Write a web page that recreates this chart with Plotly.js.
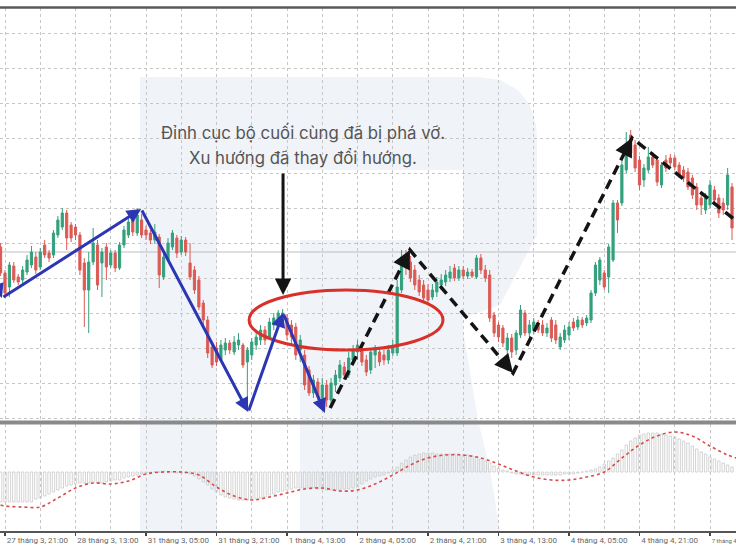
<!DOCTYPE html>
<html><head><meta charset="utf-8">
<script src="https://cdn.plot.ly/plotly-3.0.1.min.js"></script>
<style>html,body{margin:0;padding:0;background:#fff}#chart{width:736px;height:553px}</style>
</head><body><div id="chart"></div>
<script>
// ---- price candles (hourly), first candle = hour index -1 ----
const openP = [
25.3,22.7,21.3,23.4,22.3,22.0,22.8,23.5,24.3,23.3,
25.5,24.7,24.5,26.5,27.3,28.7,27.5,27.3,26.5,23.7,
21.0,23.8,25.5,23.7,25.3,23.5,24.7,23.2,25.5,26.5,
28.0,26.7,28.0,27.0,26.7,26.0,26.3,22.3,24.0,25.3,
26.2,24.8,26.0,23.7,23.0,22.0,19.7,18.0,15.3,15.2,
14.0,15.0,15.7,14.8,15.5,15.5,13.8,14.5,15.5,16.0,
17.0,16.3,17.5,18.0,18.2,18.2,17.5,17.3,15.0,14.5,
13.0,10.7,11.8,10.2,11.5,10.0,11.5,12.2,13.3,12.5,
14.0,14.8,15.0,14.0,13.0,14.5,14.8,14.5,14.0,14.7,
14.7,21.0,24.5,23.8,23.0,22.0,21.5,21.0,20.3,20.8,
21.5,21.8,22.2,23.2,22.2,23.0,22.4,22.8,22.3,24.2,
23.0,22.5,18.5,17.5,17.2,15.0,16.2,15.0,16.5,18.7,
16.7,17.0,17.7,17.5,16.7,18.0,17.5,15.3,16.0,16.5,
17.8,17.3,18.0,17.7,18.0,20.7,22.0,22.7,22.3,24.0,
29.7,29.7,33.0,36.5,35.5,34.0,32.0,33.0,34.3,34.0,
31.5,34.0,34.2,34.2,33.5,33.0,32.8,32.2,31.3,30.2,
29.0,29.5,31.0,30.2,29.7,29.5,31.3];
const highP = [
25.7,23.0,23.8,23.8,22.6,23.4,24.5,25.4,24.8,25.2,
26.0,25.0,27.0,28.4,29.2,29.0,27.8,27.6,26.8,24.2,
24.8,27.2,26.0,25.2,25.7,25.0,25.0,25.8,27.4,28.2,
28.4,29.2,28.6,27.4,27.0,27.6,26.6,24.8,26.2,27.0,
26.5,26.4,26.3,25.7,23.4,22.4,20.0,18.4,15.7,15.8,
16.0,16.2,16.0,16.4,16.7,15.7,15.3,16.2,17.0,17.5,
17.4,18.2,18.7,19.0,19.1,18.6,18.0,17.7,16.5,15.0,
13.4,12.5,12.2,12.2,12.0,12.2,13.0,14.0,13.8,14.8,
15.5,16.0,15.5,14.5,15.2,15.5,15.2,15.0,15.5,16.0,
22.0,25.0,25.0,24.4,23.5,22.5,22.0,21.6,21.6,22.3,
22.6,23.0,23.4,23.6,23.4,23.4,23.2,23.1,24.5,24.6,
23.5,23.0,18.8,17.8,17.5,16.7,16.6,17.0,19.5,19.0,
18.0,18.2,18.0,18.0,17.7,18.3,18.0,16.7,17.5,17.8,
18.2,18.4,18.3,18.5,21.0,23.8,24.3,23.0,25.6,30.0,
30.0,34.0,36.8,37.0,36.0,34.4,33.6,35.3,34.8,34.4,
33.8,34.5,34.6,34.5,33.8,33.4,33.2,32.5,31.7,30.6,
30.7,32.0,31.4,30.6,30.2,33.2,31.7];
const lowP = [
22.4,20.2,20.3,21.7,21.5,21.7,22.5,23.2,22.6,23.0,
24.2,23.8,24.2,26.2,27.0,25.0,25.8,26.0,22.5,17.3,
16.7,23.5,21.0,20.3,22.0,23.2,22.8,23.0,25.2,26.2,
26.4,26.4,26.2,26.0,25.6,25.6,21.2,22.0,23.8,25.0,
24.2,24.5,24.4,22.0,20.6,19.0,17.5,14.2,13.2,13.4,
13.8,14.5,14.6,14.5,15.0,13.2,9.3,14.0,15.0,15.5,
15.5,16.0,17.0,17.5,17.8,16.0,15.5,14.0,13.8,11.0,
10.4,10.2,10.0,9.7,9.3,9.5,10.8,11.8,12.0,12.2,
13.5,14.0,13.4,12.4,12.6,13.2,13.4,13.5,13.6,14.4,
14.4,20.7,22.5,21.8,21.0,20.4,19.8,19.7,20.0,20.3,
21.0,21.4,21.8,21.9,21.9,22.1,22.1,22.2,22.1,22.6,
21.8,17.8,16.3,15.8,15.3,14.0,14.2,14.5,16.2,16.4,
16.3,16.6,16.7,16.4,16.3,15.8,15.6,15.0,15.7,16.0,
16.9,17.0,17.2,17.4,17.7,20.4,21.5,21.0,20.7,23.8,
26.7,29.4,32.7,34.4,32.8,31.0,31.3,32.7,33.2,31.4,
31.2,32.8,33.4,33.0,32.2,31.8,31.0,30.1,29.0,28.5,
28.6,29.2,29.6,28.2,28.5,29.0,26.0];
const closeP = [
22.7,20.7,23.5,22.0,21.8,23.0,24.0,24.8,23.0,24.8,
24.5,24.2,26.7,28.0,28.7,26.2,26.2,26.5,23.0,21.0,
23.8,25.7,21.5,24.8,23.3,24.7,23.2,25.5,27.0,27.8,
26.8,28.5,26.5,26.5,26.0,26.8,22.5,24.3,25.7,26.7,
24.7,26.0,24.8,22.3,21.0,19.3,18.0,14.7,13.5,13.8,
15.5,15.7,15.0,15.8,16.0,13.5,15.0,15.8,16.3,17.0,
16.0,17.8,18.2,18.7,18.7,16.5,16.3,14.5,16.0,11.5,
10.7,12.0,10.3,11.5,10.0,11.7,12.5,13.5,12.5,14.2,
15.0,15.5,13.8,12.8,14.8,15.0,13.8,14.0,15.0,15.3,
21.3,24.3,23.2,22.2,21.5,20.8,20.2,20.0,21.0,21.8,
22.0,22.5,22.8,22.2,23.0,22.4,22.8,22.4,24.2,23.0,
22.2,18.2,16.7,16.3,15.7,16.2,14.8,16.7,19.0,16.7,
17.5,17.8,17.0,16.7,17.2,16.2,16.0,16.3,17.0,17.3,
17.2,18.0,17.5,18.2,20.7,23.5,24.0,21.3,25.3,29.7,
28.0,33.5,35.5,34.7,33.2,31.5,33.2,34.3,33.5,31.8,
33.5,33.2,33.7,33.3,32.5,32.2,31.3,30.5,29.5,29.5,
30.2,31.5,30.0,28.7,29.0,32.5,27.2];
const firstHour = -1;

// ---- MACD panel ----
const macdHist = [
-3.0,-3.0,-3.0,-3.0,-3.0,-3.0,-3.0,-3.0,-2.7,-2.6,
-2.4,-2.2,-2.0,-1.8,-1.6,-1.4,-1.3,-1.2,-1.1,-1.1,
-1.1,-1.0,-1.1,-1.1,-1.0,-0.9,-0.8,-0.8,-0.6,-0.5,
-0.4,-0.3,-0.2,-0.1,-0.1,0,0,0.1,0,0,
-0.1,-0.1,-0.1,-0.2,-0.4,-0.7,-1.0,-1.3,-1.7,-2.0,
-2.3,-2.5,-2.6,-2.7,-2.8,-2.8,-2.8,-2.8,-2.7,-2.6,
-2.5,-2.3,-2.2,-2.0,-1.9,-1.8,-1.7,-1.6,-1.6,-1.6,
-1.6,-1.6,-1.7,-1.7,-1.8,-1.8,-1.8,-1.8,-1.7,-1.7,
-1.6,-1.5,-1.2,-0.9,-0.7,-0.5,-0.4,-0.3,-0.1,0.2,
0.5,0.9,1.2,1.5,1.7,1.8,1.9,1.9,1.9,1.8,
1.8,1.8,1.8,1.8,1.7,1.7,1.7,1.6,1.5,1.3,
1.1,0.9,0.6,0.4,0.2,0.1,-0.1,-0.2,-0.2,-0.3,
-0.3,-0.3,-0.3,-0.3,-0.3,-0.3,-0.3,-0.3,-0.2,-0.2,
-0.2,-0.1,0,0.1,0.2,0.3,0.5,0.8,1.1,1.4,
1.8,2.2,2.7,3.1,3.4,3.7,3.8,3.9,3.9,3.9,
3.8,3.7,3.6,3.5,3.3,3.1,2.9,2.6,2.3,2.0,
1.8,1.5,1.3,1.1,0.9,0.7,0.5];
const signalHour = [-1,0,4,8,12,16,20,24,28,32,36,40,44,48,52,56,60,64,68,72,76,80,84,88,92,96,100,104,108,112,116,120,124,128,132,136,140,144,148,152,156,160,164,166];
const signalVal  = [-3.3,-3.4,-3.5,-3.5,-2.6,-1.6,-1.1,-1.2,-0.9,-0.2,0.0,0.0,-0.3,-1.5,-2.4,-2.8,-2.5,-2.1,-1.7,-1.6,-1.9,-1.8,-1.2,-0.3,0.7,1.4,1.7,1.7,1.4,0.8,0.1,-0.5,-0.8,-0.8,-0.5,0.0,1.4,2.7,3.6,4.0,3.6,2.6,1.7,1.4];

// ---- time axis ----
const tickHour = [0,16,32,48,64,80,96,112,128,144,160];
const tickLabels = ['27 tháng 3, 21:00','28 tháng 3, 13:00','31 tháng 3, 05:00','31 tháng 3, 21:00','1 tháng 4, 13:00','2 tháng 4, 05:00','2 tháng 4, 21:00','3 tháng 4, 13:00','4 tháng 4, 05:00','4 tháng 4, 21:00','7 tháng 4, 13:00'];

// ---- drawn analysis (hour, price) ----
const blueZigHour  = [-4, -0.7, 30.9, 55.2, 63.1, 72.6];
const blueZigPrice = [24.0, 20.2, 29.1, 8.8, 18.7, 8.7];
const blackZigHour  = [73.8, 91.9, 115.3, 142.3, 171.4];
const blackZigPrice = [9.2, 25.0, 12.7, 36.2, 26.0];
const pointerHour = [63.1, 63.1];
const pointerPrice = [32.8, 20.5];
const ellipseHour = [55.4, 99.4];
const ellipsePrice = [15.0, 21.0];
const calloutLines = ['Đỉnh cục bộ cuối cùng đã bị phá vỡ.', 'Xu hướng đã thay đổi hướng.'];
const calloutHour = 67.6;
const calloutPrice = [36.8, 34.2];
const lastPrice = 24.8;

const hours = openP.map((_, k) => k + firstHour);

// the last (weekend-compressed) label is printed smaller, as in the source
const tickText = tickLabels.map((t, k) => k === tickLabels.length - 1
  ? '<span style="font-size:6px">' + t + '</span>' : t);

const GRID = '#c6c6c6';
const traces = [
  {type:'candlestick', x:hours, open:openP, high:highP, low:lowP, close:closeP,
   xaxis:'x', yaxis:'y', whiskerwidth:0, hoverinfo:'skip', showlegend:false,
   increasing:{line:{color:'#33a07e', width:1}, fillcolor:'#33a07e'},
   decreasing:{line:{color:'#db5a55', width:1}, fillcolor:'#db5a55'}},
  {type:'bar', x:hours, y:macdHist, xaxis:'x2', yaxis:'y2', width:0.55, hoverinfo:'skip', showlegend:false,
   marker:{color:'rgba(255,255,255,0)', line:{color:'#c9c9c9', width:0.8}}},
  {type:'scatter', mode:'lines', x:signalHour, y:signalVal, xaxis:'x2', yaxis:'y2', hoverinfo:'skip', showlegend:false,
   line:{color:'#d94b4b', width:1.6, dash:'3px,3px', shape:'spline', smoothing:1}},
  {type:'scatter', mode:'lines', x:blackZigHour, y:blackZigPrice, xaxis:'x', yaxis:'y', hoverinfo:'skip', showlegend:false,
   line:{color:'#141414', width:3.5, dash:'10px,6px'}}
];

// watermark helper (paper coords from plot-area pixels)
function wm(pts){
  return 'M' + pts.map(p => (p[0]/736).toFixed(4) + ',' + ((531 - p[1]) / 523).toFixed(4)).join('L') + 'Z';
}
const WMC = '#f0f3f8';
const shapes = [
  {type:'path', xref:'paper', yref:'paper', layer:'below', fillcolor:WMC, line:{width:0},
   path: wm([[140,77],[217,77],[217,531],[140,531]])},
  {type:'path', xref:'paper', yref:'paper', layer:'below', fillcolor:WMC, line:{width:0},
   path: wm([[217,77],[478,77],[500,80],[518,90],[530,105],[536,125],[537,140],[537,235],[500,305],[463,318],[463,170],[217,170]])},
  {type:'path', xref:'paper', yref:'paper', layer:'below', fillcolor:WMC, line:{width:0},
   path: wm([[300,240],[463,240],[463,330],[478,420],[490,470],[500,531],[300,531]])},
  {type:'line', xref:'paper', yref:'y', x0:0, x1:1, y0:lastPrice, y1:lastPrice, layer:'between',
   line:{color:'#bdbdbd', width:1}},
  {type:'line', xref:'paper', yref:'paper', x0:0, x1:1, y0:(531-7.5)/523, y1:(531-7.5)/523,
   line:{color:'#5a5a5a', width:2.5}},
  {type:'rect', xref:'paper', yref:'paper', x0:0, x1:1, y0:(531-424.5)/523, y1:(531-420.5)/523,
   fillcolor:'#8a8a8a', line:{width:0}},
  {type:'circle', xref:'x', yref:'y', x0:ellipseHour[0], x1:ellipseHour[1], y0:ellipsePrice[0], y1:ellipsePrice[1],
   line:{color:'#d8302a', width:3}}
];

const annotations = [];
calloutLines.forEach((t, k) => annotations.push({
  xref:'x', yref:'y', x:calloutHour, y:calloutPrice[k], text:t, showarrow:false,
  xanchor:'center', yanchor:'middle', font:{family:'Inter, Roboto, sans-serif', size:16.8, color:'#555555'}
}));
// blue zigzag: solid arrows segment by segment
for (let k = 1; k < blueZigHour.length; k++) {
  annotations.push({xref:'x', yref:'y', axref:'x', ayref:'y', text:'', showarrow:true,
    x:blueZigHour[k], y:blueZigPrice[k], ax:blueZigHour[k-1], ay:blueZigPrice[k-1],
    arrowhead:2, arrowsize:0.95, arrowwidth:3, arrowcolor:'#2c36b3', standoff:0});
}
// black dashed zigzag: heads only (line is the dashed trace)
for (let k = 1; k < blackZigHour.length - 1; k++) {
  const f = 0.06;
  annotations.push({xref:'x', yref:'y', axref:'x', ayref:'y', text:'', showarrow:true,
    x:blackZigHour[k], y:blackZigPrice[k],
    ax:blackZigHour[k] + f*(blackZigHour[k-1]-blackZigHour[k]),
    ay:blackZigPrice[k] + f*(blackZigPrice[k-1]-blackZigPrice[k]),
    arrowhead:2, arrowsize:1.05, arrowwidth:3.5, arrowcolor:'#141414', standoff:0});
}
// vertical pointer
annotations.push({xref:'x', yref:'y', axref:'x', ayref:'y', text:'', showarrow:true,
  x:pointerHour[1], y:pointerPrice[1], ax:pointerHour[0], ay:pointerPrice[0],
  arrowhead:2, arrowsize:1.1, arrowwidth:3, arrowcolor:'#141414', standoff:0});

const xr = [-1.135, 165.9];
const layout = {
  width:736, height:553,
  margin:{l:0, r:0, t:8, b:22, pad:0},
  paper_bgcolor:'#ffffff', plot_bgcolor:'#ffffff',
  showlegend:false, bargap:0.3,
  font:{family:'Roboto, sans-serif'},
  xaxis:{domain:[0,1], range:xr, anchor:'y', rangeslider:{visible:false},
    tickmode:'linear', tick0:0, dtick:8, showticklabels:false, ticks:'',
    showgrid:true, gridcolor:GRID, griddash:'3px,3px', gridwidth:1, zeroline:false, showline:false},
  yaxis:{domain:[(531-421)/523, 1], range:[7.9, 49.2], anchor:'x',
    tickmode:'linear', tick0:8.2, dtick:3.5, showticklabels:false, ticks:'',
    showgrid:true, gridcolor:GRID, griddash:'3px,3px', gridwidth:1, zeroline:false, showline:false},
  xaxis2:{domain:[0,1], range:xr, anchor:'y2',
    tickmode:'array', tickvals:tickHour, ticktext:tickText, tickangle:0,
    ticklabelposition:'outside right', ticklabeloverflow:'allow',
    ticks:'outside', ticklen:3, tickwidth:1.5, tickcolor:'#444',
    tickfont:{family:'Roboto, sans-serif', size:8, color:'#666'},
    showgrid:true, gridcolor:GRID, griddash:'3px,3px', gridwidth:1,
    minor:{tickmode:'linear', tick0:0, dtick:8, showgrid:true, gridcolor:GRID, griddash:'3px,3px', gridwidth:1, ticks:''},
    showline:true, linecolor:'#555', linewidth:2, zeroline:false},
  yaxis2:{domain:[0, (531-424)/523], range:[-5.9, 4.8], anchor:'x2',
    showticklabels:false, ticks:'', showgrid:false, zeroline:false, showline:false},
  shapes:shapes,
  annotations:annotations
};
Plotly.newPlot('chart', traces, layout, {displayModeBar:false, staticPlot:true});
</script>
</body></html>
